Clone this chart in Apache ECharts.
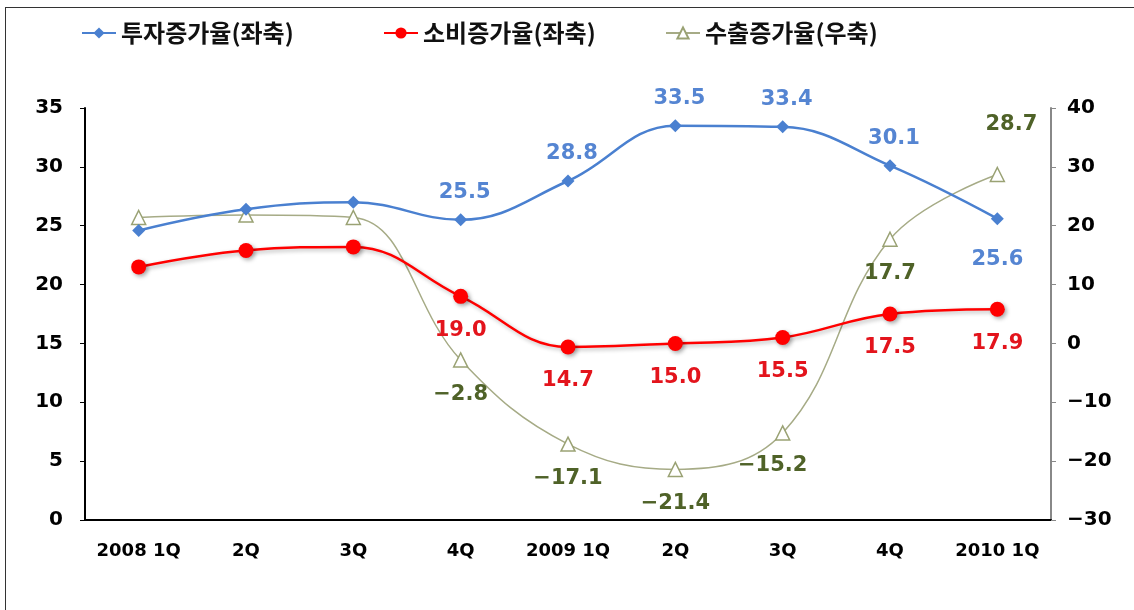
<!DOCTYPE html>
<html><head><meta charset="utf-8">
<script src="https://cdn.jsdelivr.net/npm/echarts@6/dist/echarts.min.js"></script>
<style>
html,body{margin:0;padding:0;background:#fff;}
#frame{position:absolute;left:5px;top:7px;width:1140px;height:620px;border:1.5px solid #333;box-sizing:border-box;}
#c{position:absolute;left:0;top:0;width:1134px;height:610px;}
</style></head>
<body><div id="frame"></div><div id="c"></div>
<script>
const categories = ['2008 1Q','2Q','3Q','4Q','2009 1Q','2Q','3Q','4Q','2010 1Q'];
const investment = [24.6, 26.4, 27.0, 25.5, 28.8, 33.5, 33.4, 30.1, 25.6];
const consumption = [21.5, 22.9, 23.2, 19.0, 14.7, 15.0, 15.5, 17.5, 17.9];
const exports_ = [21.4, 21.8, 21.4, -2.8, -17.1, -21.4, -15.2, 17.7, 28.7];
const leftTicks = {min: 0, max: 35, interval: 5};
const rightTicks = {min: -30, max: 40, interval: 10};
const names = ['투자증가율(좌축)', '소비증가율(좌축)', '수출증가율(우축)'];

const FONT = "'DejaVu Sans', 'Noto Sans CJK KR', sans-serif";
const KFONT = "'Noto Sans CJK KR', 'DejaVu Sans', sans-serif";
const minus = s => String(s).replace('-', '\u2212');
const fmt1 = p => minus(Number(p.value).toFixed(1));
const chart = echarts.init(document.getElementById('c'));
function labelled(arr, pos, color) {
  return arr.map((v, i) => {
    if (i < 3) return {value: v, label: {show: false}};
    const p = (typeof pos === 'function') ? pos(i) : pos;
    return {value: v, label: {show: true, position: p.position, offset: p.offset || [0,0], color: color}};
  });
}
const labelFont = {fontFamily: FONT, fontWeight: 'bold', fontSize: 21, formatter: fmt1};
const legendText = {fontFamily: KFONT, fontWeight: 'bold', fontSize: 24, color: '#111'};
const legendLefts = [76, 378, 660];
chart.setOption({
  animation: false,
  legend: names.map((n, i) => ({
    left: legendLefts[i], top: 16, itemWidth: 34, itemHeight: 14, itemGap: 4,
    textStyle: legendText, data: [n]
  })),
  grid: {left: 85, right: 83, top: 108, bottom: 90},
  xAxis: {
    type: 'category', data: categories, boundaryGap: true,
    axisLine: {lineStyle: {color: '#000', width: 2}},
    axisTick: {inside: true, length: 6, lineStyle: {color: '#000', width: 1.5}},
    axisLabel: {interval: 0, fontFamily: FONT, fontWeight: 'bold', fontSize: 18, color: '#000', margin: 22}
  },
  yAxis: [{
    type: 'value', min: leftTicks.min, max: leftTicks.max, interval: leftTicks.interval,
    axisLine: {show: true, lineStyle: {color: '#000', width: 2}},
    axisTick: {show: true, length: 5, lineStyle: {color: '#000'}},
    splitLine: {show: false},
    axisLabel: {fontFamily: FONT, fontWeight: 'bold', fontSize: 20, color: '#000', margin: 22}
  }, {
    type: 'value', min: rightTicks.min, max: rightTicks.max, interval: rightTicks.interval,
    position: 'right',
    axisLine: {show: true, lineStyle: {color: '#888', width: 2}},
    axisTick: {show: true, length: 5, lineStyle: {color: '#888'}},
    splitLine: {show: false},
    axisLabel: {fontFamily: FONT, fontWeight: 'bold', fontSize: 20, color: '#000', margin: 16, formatter: v => minus(v)}
  }],
  series: [{
    name: names[0], type: 'line', yAxisIndex: 0, smooth: 0.4, z: 3,
    symbol: 'diamond', symbolSize: 13,
    itemStyle: {color: '#4a80d0'},
    lineStyle: {width: 2.5, color: '#4a80d0'},
    label: Object.assign({distance: 10}, labelFont),
    data: labelled(investment, i => i === 8 ? {position: 'bottom', offset: [0, 14]} : {position: 'top', offset: [4, 0]}, '#5585d2')
  }, {
    name: names[1], type: 'line', yAxisIndex: 0, smooth: 0.4, z: 4,
    symbol: 'circle', symbolSize: 15,
    itemStyle: {color: '#ff0000', shadowColor: 'rgba(0,0,0,0.35)', shadowBlur: 4, shadowOffsetX: 2, shadowOffsetY: 2},
    lineStyle: {width: 2.5, color: '#ff0000', shadowColor: 'rgba(0,0,0,0.3)', shadowBlur: 4, shadowOffsetX: 2, shadowOffsetY: 2},
    label: Object.assign({distance: 10}, labelFont),
    data: labelled(consumption, {position: 'bottom', offset: [0, 6]}, '#e3141c')
  }, {
    name: names[2], type: 'line', yAxisIndex: 1, smooth: 0.4, z: 2,
    symbol: 'triangle', symbolSize: 14,
    itemStyle: {color: '#ffffff', borderColor: '#9aa274', borderWidth: 1.5},
    lineStyle: {width: 1.5, color: '#a6ab86'},
    label: Object.assign({distance: 10}, labelFont),
    data: labelled(exports_, i => i === 8 ? {position: 'top', offset: [14, -22]} : (i === 6 ? {position: 'bottom', offset: [-10, 4]} : {position: 'bottom', offset: [0, 6]}), '#4f6228')
  }]
});
</script></body></html>
